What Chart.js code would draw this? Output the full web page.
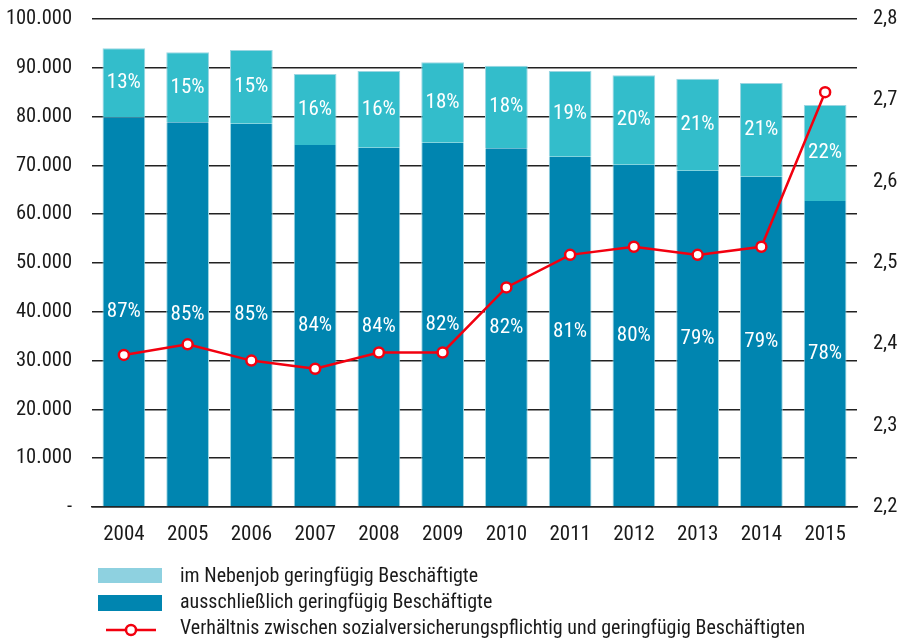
<!DOCTYPE html>
<html>
<head>
<meta charset="utf-8">
<script src="https://cdn.jsdelivr.net/npm/chart.js@4/dist/chart.umd.min.js"></script>
<style>
  html, body { margin: 0; padding: 0; background: #fff; }
  #wrap { width: 910px; height: 638px; position: relative; }
</style>
</head>
<body>
<div id="wrap"><canvas id="myChart" width="910" height="638"></canvas></div>
<script>
let years = ["2004","2005","2006","2007","2008","2009","2010","2011","2012","2013","2014","2015"];
let nurMinijob = [79850, 78830, 78550, 74180, 73630, 74650, 73500, 71780, 70150, 68920, 67690, 62700];
let nebenjob = [14150, 14340, 15100, 14550, 15710, 16470, 16940, 17560, 18310, 18850, 19200, 19680];
let verhaeltnis = [2.387, 2.40, 2.38, 2.37, 2.39, 2.39, 2.47, 2.51, 2.52, 2.51, 2.52, 2.71];
let anteilNur = ["87%","85%","85%","84%","84%","82%","82%","81%","80%","79%","79%","78%"];
let anteilNeben = ["13%","15%","15%","16%","16%","18%","18%","19%","20%","21%","21%","22%"];
let leftTicks = ["-","10.000","20.000","30.000","40.000","50.000","60.000","70.000","80.000","90.000","100.000"];
let rightTicks = ["2,2","2,3","2,4","2,5","2,6","2,7","2,8"];
let legendLabels = [
    "im Nebenjob geringfügig Beschäftigte",
    "ausschließlich geringfügig Beschäftigte",
    "Verhältnis zwischen sozialversicherungspflichtig und geringfügig Beschäftigten"
];

const FONT = "'Roboto Condensed', 'Open Sans Condensed', sans-serif";
const DARK = "#0085b0";
const LIGHT = "#33bdcb";
const EDGE = "#9bd6e2";
const RED = "#f2000f";
const TEXT = "#1a1a1a";

// percent labels in the middle of each bar segment
const percentLabels = {
    id: "percentLabels",
    afterDatasetsDraw(chart) {
        const ctx = chart.ctx;
        ctx.save();
        ctx.fillStyle = "#fff";
        ctx.font = "21px " + FONT;
        ctx.textAlign = "center";
        ctx.textBaseline = "middle";
        [[0, anteilNur], [1, anteilNeben]].forEach(([i, texts]) => {
            chart.getDatasetMeta(i).data.forEach((bar, j) => {
                ctx.fillText(texts[j], bar.x, (bar.y + bar.base) / 2);
            });
        });
        ctx.restore();
    }
};

// legend under the x axis, one row per series
const bottomLegend = {
    id: "bottomLegend",
    afterDraw(chart) {
        const ctx = chart.ctx;
        ctx.save();
        ctx.font = "20px " + FONT;
        ctx.textBaseline = "middle";
        const rows = [577, 603, 629];
        ctx.fillStyle = "#8ed1e0";
        ctx.fillRect(98, 568, 64, 15);
        ctx.fillStyle = DARK;
        ctx.fillRect(98, 595, 64, 16);
        ctx.strokeStyle = RED;
        ctx.lineWidth = 2.5;
        ctx.beginPath();
        ctx.moveTo(106, 630);
        ctx.lineTo(156, 630);
        ctx.stroke();
        ctx.beginPath();
        ctx.arc(131, 630, 5, 0, Math.PI * 2);
        ctx.fillStyle = "#fff";
        ctx.fill();
        ctx.stroke();
        ctx.fillStyle = TEXT;
        legendLabels.forEach((t, i) => ctx.fillText(t, 180, rows[i]));
        ctx.restore();
    }
};

// keep the tick padding from pushing the plot area down
function fixWidth(w) {
    return s => {
        s.width = w;
        s.paddingTop = 0;
        s.paddingBottom = 0;
    };
}

new Chart("myChart", {
    data: {
        labels: years,
        datasets: [
            {
                type: "bar",
                label: legendLabels[1],
                data: nurMinijob,
                backgroundColor: DARK,
                borderColor: EDGE,
                borderWidth: {left: 1, right: 1, top: 0, bottom: 0},
                borderSkipped: false,
                categoryPercentage: 1,
                barPercentage: 0.67,
                yAxisID: "y",
                stack: "s",
                order: 2
            },
            {
                type: "bar",
                label: legendLabels[0],
                data: nebenjob,
                backgroundColor: LIGHT,
                borderColor: EDGE,
                borderWidth: 1,
                borderSkipped: "bottom",
                categoryPercentage: 1,
                barPercentage: 0.67,
                yAxisID: "y",
                stack: "s",
                order: 2
            },
            {
                type: "line",
                label: legendLabels[2],
                data: verhaeltnis,
                borderColor: RED,
                borderWidth: 2.5,
                pointRadius: 5,
                pointBorderWidth: 2.5,
                pointBackgroundColor: "#fff",
                pointBorderColor: RED,
                yAxisID: "y2",
                tension: 0,
                order: 1
            }
        ]
    },
    options: {
        responsive: false,
        animation: false,
        layout: {padding: {top: 19, left: 0, right: 0, bottom: 0}},
        plugins: {
            legend: {display: false},
            tooltip: {enabled: false}
        },
        scales: {
            x: {
                stacked: true,
                grid: {display: false, drawTicks: false},
                border: {display: true, color: "#222", width: 1.5},
                ticks: {color: TEXT, font: {family: FONT, size: 21}, padding: 15},
                afterFit: s => { s.height = 131; }
            },
            y: {
                stacked: true,
                position: "left",
                min: 0,
                max: 100000,
                afterBuildTicks: s => { s.ticks = leftTicks.map((t, i) => ({value: i * 10000})); },
                ticks: {
                    color: TEXT,
                    font: {family: FONT, size: 20.5},
                    padding: 20,
                    callback: (v, i) => leftTicks[i]
                },
                grid: {color: "#222", lineWidth: 1.5, drawTicks: false},
                border: {display: false},
                afterFit: fixWidth(92)
            },
            y2: {
                position: "right",
                min: 2.2,
                max: 2.8,
                afterBuildTicks: s => { s.ticks = rightTicks.map((t, i) => ({value: 2.2 + i * 0.1})); },
                ticks: {
                    color: TEXT,
                    font: {family: FONT, size: 20.5},
                    padding: 16,
                    callback: (v, i) => rightTicks[i]
                },
                grid: {display: false, drawTicks: false},
                border: {display: false},
                afterFit: fixWidth(53)
            }
        }
    },
    plugins: [percentLabels, bottomLegend]
});
</script>
</body>
</html>
